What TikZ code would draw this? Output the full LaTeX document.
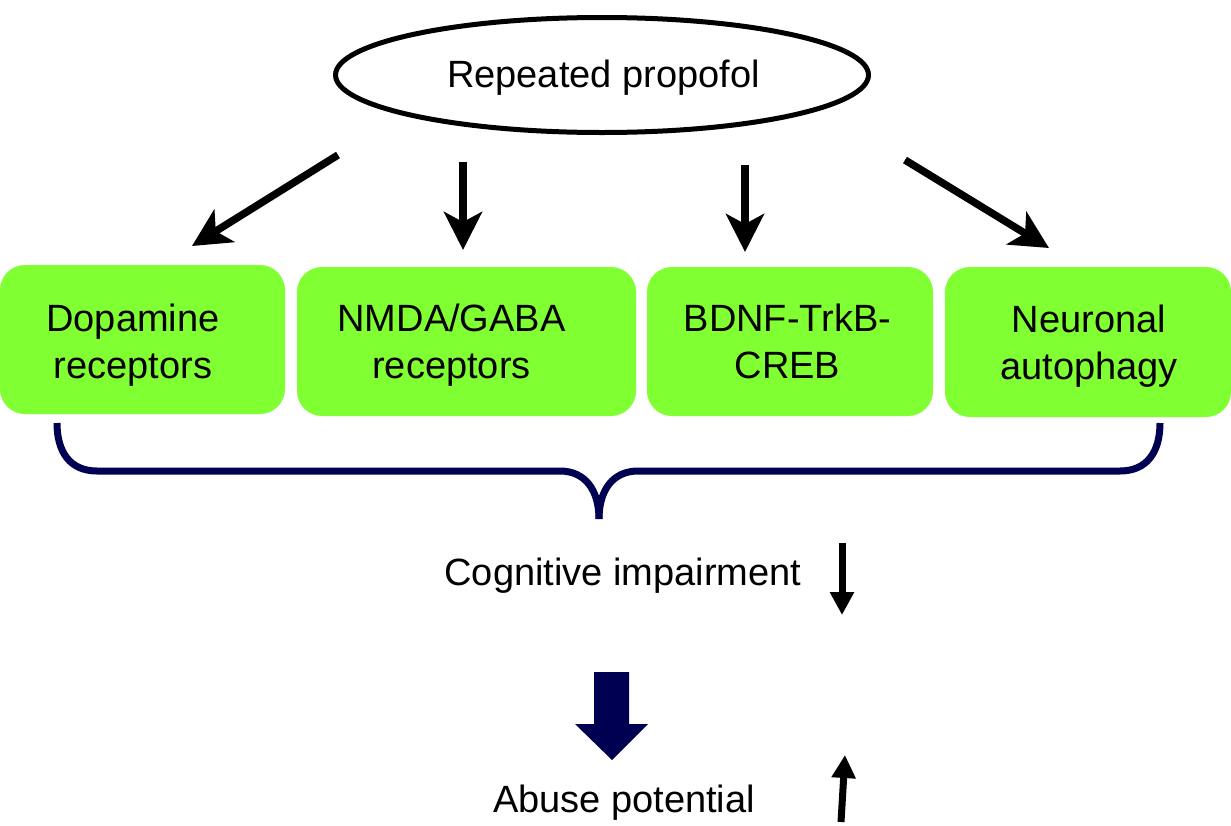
\documentclass[tikz,border=0pt]{standalone}
\usepackage{fontspec}
\setmainfont{Liberation Sans}
\usetikzlibrary{arrows.meta,shapes.geometric}
\definecolor{limegreen}{RGB}{128,255,51}
\definecolor{navyblue}{RGB}{0,0,82}
\begin{document}
\begin{tikzpicture}[x=1pt,y=-1pt,
  box/.style={draw=none, fill=limegreen, rounded corners=25pt, inner sep=0pt, outer sep=0pt},
  lbl/.style={anchor=base, inner sep=0pt, outer sep=0pt, font=\fontsize{38}{46}\selectfont},
  bigarrow/.style={line width=7.5pt, -{Stealth[length=38pt,width=38pt,inset=10pt]}},
  smallarrow/.style={line width=7pt, -{Triangle[length=23pt,width=23pt]}},
  bracecol/.style={draw=navyblue, line width=7pt}
]
\useasboundingbox (0,0) rectangle (1231,825);

% top ellipse
\node[draw, ellipse, line width=5pt, minimum width=533pt, minimum height=115pt, inner sep=0pt] (ell) at (602,75) {};
\node[lbl] (tprop) at (603.5,87) {Repeated propofol};

% boxes
\node[box, minimum width=285pt, minimum height=149pt] (b1) at (142.5,339.5) {};
\node[box, minimum width=339pt, minimum height=149pt] (b2) at (466.5,341.5) {};
\node[box, minimum width=286pt, minimum height=149pt] (b3) at (790,341.5) {};
\node[box, minimum width=286pt, minimum height=150pt] (b4) at (1088,342) {};

\node[lbl] (t1a) at (133,331) {Dopamine};
\node[lbl] (t1b) at (133,378) {receptors};
\node[lbl] (t2a) at (451.5,331) {NMDA/GABA};
\node[lbl] (t2b) at (451.5,378) {receptors};
\node[lbl] (t3a) at (787.5,331) {BDNF-TrkB-};
\node[lbl] (t3b) at (787.5,378) {CREB};
\node[lbl] (t4a) at (1089,332) {Neuronal};
\node[lbl] (t4b) at (1089,379) {autophagy};

% arrows from ellipse
\coordinate (a1s) at (338,155);
\coordinate (a1e) at (192,246);
\coordinate (a2s) at (463,162);
\coordinate (a2e) at (463,250);
\coordinate (a3s) at (745,165);
\coordinate (a3e) at (745,252);
\coordinate (a4s) at (905,160);
\coordinate (a4e) at (1049,248);
\draw[bigarrow] (a1s) -- (a1e);
\draw[bigarrow] (a2s) -- (a2e);
\draw[bigarrow] (a3s) -- (a3e);
\draw[bigarrow] (a4s) -- (a4e);

% brace
\draw[bracecol] (57,423) .. controls (57,452) and (70,471) .. (97,471) -- (560,471)
   .. controls (585,471) and (599,490) .. (599,519);
\draw[bracecol] (1160,423) .. controls (1160,452) and (1147,471) .. (1120,471) -- (638,471)
   .. controls (613,471) and (599,490) .. (599,519);

% outcome texts
\node[lbl] (cog) at (623,585) {Cognitive impairment};
\node[lbl] (abuse) at (624,812) {Abuse potential};

\coordinate (c1s) at (842,543);
\coordinate (c1e) at (842,615);
\draw[smallarrow] (c1s) -- (c1e);
\coordinate (p1s) at (841,822);
\coordinate (p1e) at (845,755);
\draw[smallarrow] (p1s) -- (p1e);

% block arrow
\fill[navyblue] (594,672) -- (629,672) -- (629,724) -- (648,724) -- (612,760) -- (575,724) -- (594,724) -- cycle;
\end{tikzpicture}
\end{document}
